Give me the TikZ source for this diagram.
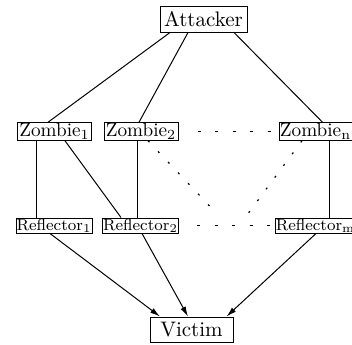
\documentclass[tikz,border=0pt]{standalone}
\usetikzlibrary{arrows.meta}
\begin{document}
\begin{tikzpicture}[x=0.5pt,y=-0.5pt,
  box/.style={draw, line width=0.5pt, rectangle, inner sep=0.3pt, fill=white},
  bigbox/.style={box, minimum height=13pt, font=\fontsize{10.5}{12}\selectfont},
  zbox/.style={box, minimum width=37pt, minimum height=8.5pt, font=\fontsize{9.6}{11}\selectfont},
  rbox/.style={box, minimum width=38pt, minimum height=7.5pt, font=\footnotesize},
  link/.style={line width=0.5pt},
  dotsh/.style={line width=0.6pt, dash pattern=on 1.5pt off 7.25pt},
  dotsd/.style={line width=0.6pt, dash pattern=on 1pt off 6.3pt},
  arr/.style={line width=0.5pt, -{Latex[length=5pt,width=2.8pt]}}]
\useasboundingbox (0,0) rectangle (352,344);
\node[bigbox, minimum width=43.5pt] (att) at (203.5,19) {Attacker};
\node[bigbox, minimum width=41.5pt, minimum height=12.5pt] (vic) at (191.5,329.5) {Victim};
\node[zbox] (z1) at (54.5,131.5) {Zombie$_{\mathrm{1}}$};
\node[zbox] (z2) at (141,131.5) {Zombie$_{\mathrm{2}}$};
\node[zbox, minimum width=36.5pt] (zn) at (315.5,131.5) {Zombie$_{\mathrm{n}}$};
\node[rbox] (r1) at (54,225.5) {Reflector$_{\mathrm{1}}$};
\node[rbox] (r2) at (140.5,225.5) {Reflector$_{\mathrm{2}}$};
\node[rbox, minimum width=36.5pt] (rm) at (315.5,225.5) {Reflector$_{\mathrm{m}}$};
\coordinate (dl) at (218,215);
\coordinate (dr) at (247,215);
% attacker to zombies
\draw[link] ([xshift=-16.75pt]att.south) -- ([xshift=-3.25pt]z1.north);
\draw[link] ([xshift=-7.75pt]att.south) -- ([xshift=-1pt]z2.north);
\draw[link] ([xshift=15.25pt]att.south) -- ([xshift=3.5pt]zn.north);
% zombies to reflectors
\draw[link] ([xshift=-9.25pt]z1.south) -- ([xshift=-9pt]r1.north);
\draw[link] ([xshift=5.25pt]z1.south) -- ([xshift=-9.75pt]r2.north);
\draw[link] ([xshift=-2pt]z2.south) -- ([xshift=-1.75pt]r2.north);
\draw[link] ([xshift=6.75pt]zn.south) -- ([xshift=6.75pt]rm.north);
% dotted
\draw[dotsd] ([xshift=3.5pt]z2.south) -- (dl);
\draw[dotsd] ([xshift=-6.75pt]zn.south) -- (dr);
\draw[dotsh] ([xshift=9.5pt]z2.east) -- (zn.west);
\draw[dotsh] ([xshift=9pt]r2.east) -- (rm.west);
% reflectors to victim
\draw[arr] ([xshift=-2pt]r1.south) -- ([xshift=-15.75pt]vic.north);
\draw[arr] ([xshift=0.75pt]r2.south) -- ([xshift=-1.75pt]vic.north);
\draw[arr] ([xshift=0.25pt]rm.south) -- ([xshift=17.5pt]vic.north);
\end{tikzpicture}
\end{document}
